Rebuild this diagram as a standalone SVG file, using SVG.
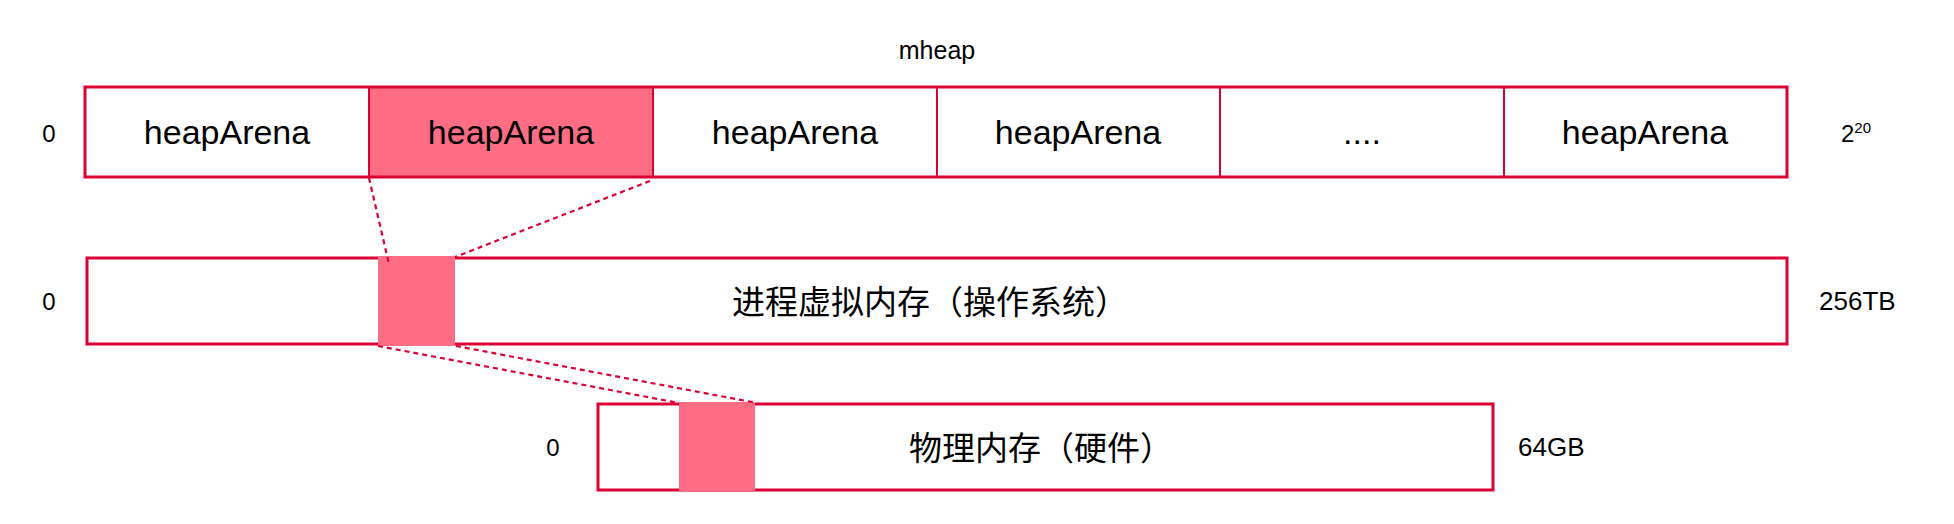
<svg xmlns="http://www.w3.org/2000/svg" width="1954" height="524" viewBox="0 0 1954 524">
<style>
.box{fill:none;stroke:#DC0035;stroke-width:3}
.div{stroke:#DC0035;stroke-width:2}
.hl{fill:#FF6D84}
.dash{stroke:#DC0035;stroke-width:2.2;stroke-dasharray:5 4;fill:none}
.lbl{font-family:"Liberation Sans",Arial,sans-serif;fill:#000}
.cell{font-family:"Liberation Sans",Arial,sans-serif;font-size:34px;fill:#000;text-anchor:middle}
.cjk{font-family:"Liberation Sans","Noto Sans CJK SC",sans-serif;font-size:33px;fill:#000}
</style>
<rect width="1954" height="524" fill="#fff"/>
<text class="lbl" x="937" y="59" font-size="25" text-anchor="middle">mheap</text>

<g id="mheap">
  <rect class="hl" x="369" y="87" width="284" height="90"/>
  <rect class="box" x="85" y="87" width="1702" height="90"/>
  <line class="div" x1="369" y1="87" x2="369" y2="177"/>
  <line class="div" x1="653" y1="87" x2="653" y2="177"/>
  <line class="div" x1="937" y1="87" x2="937" y2="177"/>
  <line class="div" x1="1220" y1="87" x2="1220" y2="177"/>
  <line class="div" x1="1504" y1="87" x2="1504" y2="177"/>
  <text class="cell" x="227" y="144">heapArena</text>
  <text class="cell" x="511" y="144">heapArena</text>
  <text class="cell" x="795" y="144">heapArena</text>
  <text class="cell" x="1078" y="144">heapArena</text>
  <text class="cell" x="1362" y="144">....</text>
  <text class="cell" x="1645" y="144">heapArena</text>
  <text class="lbl" x="49" y="142" font-size="24" text-anchor="middle">0</text>
  <text class="lbl" x="1841" y="142" font-size="24">2<tspan font-size="15" dy="-9">20</tspan></text>
</g>

<g id="virtual">
  <rect class="box" x="87" y="258" width="1700" height="86"/>
  <rect class="hl" x="378" y="256" width="77" height="90"/>
  <text class="cjk" x="732" y="314">进程虚拟内存（操作系统）</text>
  <text class="lbl" x="49" y="310" font-size="24" text-anchor="middle">0</text>
  <text class="lbl" x="1819" y="310" font-size="26">256TB</text>
</g>

<g id="physical">
  <rect class="box" x="598" y="404" width="895" height="86"/>
  <rect class="hl" x="679" y="402" width="76" height="90"/>
  <text class="cjk" x="909" y="460">物理内存（硬件）</text>
  <text class="lbl" x="553" y="456" font-size="24" text-anchor="middle">0</text>
  <text class="lbl" x="1518" y="456" font-size="26">64GB</text>
</g>

<g id="connectors">
  <line class="dash" x1="369" y1="178" x2="389" y2="264"/>
  <line class="dash" x1="650" y1="181" x2="455" y2="257"/>
  <line class="dash" x1="378" y1="346" x2="679" y2="403"/>
  <line class="dash" x1="456" y1="346" x2="757" y2="403"/>
</g>
</svg>
